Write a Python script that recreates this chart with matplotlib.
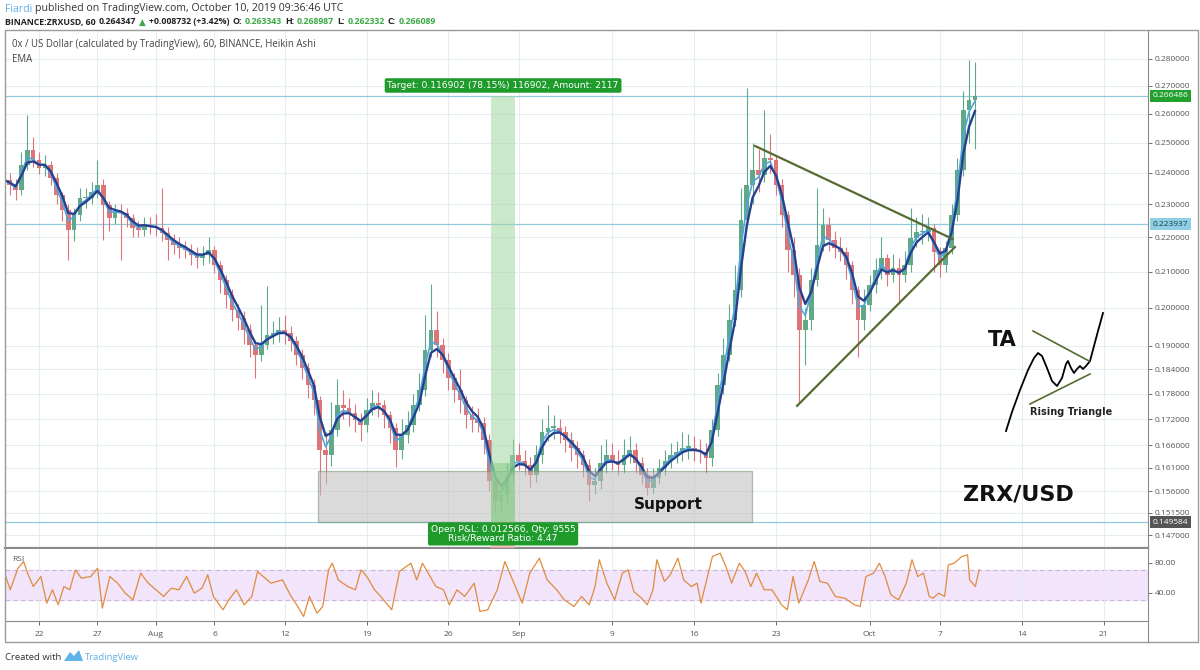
import numpy as np
import pandas as pd
import matplotlib
matplotlib.use('Agg')
import matplotlib.pyplot as plt
import matplotlib.dates as mdates
import matplotlib.transforms as mtransforms
from matplotlib.ticker import FixedLocator, FuncFormatter, NullLocator
from matplotlib.patches import Rectangle
from matplotlib.lines import Line2D

plt.rcParams['font.family'] = ['Open Sans', 'DejaVu Sans']

# 12h candles (Heikin Ashi look) starting 2019-07-19 00:00 UTC
first_open = 0.2400
closes = [0.2377, 0.2361, 0.2345, 0.2426, 0.2476, 0.2442, 0.2416, 0.2426, 0.2384, 0.2329,
          0.2283, 0.2222, 0.2267, 0.2320, 0.2320, 0.2339, 0.2361, 0.2298, 0.2258, 0.2276,
          0.2273, 0.2258, 0.2228, 0.2222, 0.2237, 0.2231, 0.2228, 0.2213, 0.2191, 0.2177,
          0.2168, 0.2162, 0.2148, 0.2139, 0.2148, 0.2162, 0.2119, 0.2075, 0.2035, 0.1994,
          0.1972, 0.1940, 0.1901, 0.1876, 0.1901, 0.1928, 0.1933, 0.1940, 0.1933, 0.1913,
          0.1876, 0.1843, 0.1801, 0.1764, 0.1650, 0.1638, 0.1695, 0.1753, 0.1746, 0.1734,
          0.1717, 0.1706, 0.1741, 0.1758, 0.1753, 0.1729, 0.1699, 0.1650, 0.1683, 0.1706,
          0.1753, 0.1789, 0.1889, 0.1940, 0.1901, 0.1862, 0.1818, 0.1789, 0.1764, 0.1729,
          0.1717, 0.1712, 0.1671, 0.1582, 0.1540, 0.1552, 0.1595, 0.1638, 0.1626, 0.1616,
          0.1595, 0.1638, 0.1690, 0.1699, 0.1699, 0.1690, 0.1671, 0.1654, 0.1638, 0.1616,
          0.1573, 0.1582, 0.1621, 0.1638, 0.1626, 0.1616, 0.1638, 0.1650, 0.1621, 0.1595,
          0.1567, 0.1588, 0.1609, 0.1626, 0.1638, 0.1645, 0.1654, 0.1654, 0.1650, 0.1645,
          0.1632, 0.1695, 0.1801, 0.1876, 0.1966, 0.2048, 0.2251, 0.2361, 0.2409, 0.2393,
          0.2449, 0.2442, 0.2361, 0.2267, 0.2162, 0.2090, 0.1940, 0.1966, 0.2075, 0.2177,
          0.2237, 0.2191, 0.2168, 0.2156, 0.2119, 0.2048, 0.1966, 0.2007, 0.2062, 0.2105,
          0.2139, 0.2090, 0.2110, 0.2090, 0.2119, 0.2198, 0.2216, 0.2216, 0.2228, 0.2156,
          0.2119, 0.2168, 0.2267, 0.2409, 0.2613, 0.2649, 0.2663]
highs = [0.2440, 0.2400, 0.2380, 0.2470, 0.2596, 0.2520, 0.2470, 0.2460, 0.2440, 0.2400,
         0.2340, 0.2300, 0.2290, 0.2350, 0.2350, 0.2370, 0.2442, 0.2380, 0.2310, 0.2300,
         0.2300, 0.2290, 0.2270, 0.2250, 0.2260, 0.2260, 0.2270, 0.2350, 0.2230, 0.2210,
         0.2200, 0.2190, 0.2180, 0.2170, 0.2175, 0.2200, 0.2175, 0.2130, 0.2090, 0.2050,
         0.2010, 0.1990, 0.1955, 0.1915, 0.2008, 0.2060, 0.1965, 0.1975, 0.1980, 0.1950,
         0.1925, 0.1890, 0.1855, 0.1815, 0.1775, 0.1690, 0.1760, 0.1815, 0.1790, 0.1770,
         0.1755, 0.1735, 0.1770, 0.1790, 0.1785, 0.1765, 0.1740, 0.1710, 0.1720, 0.1740,
         0.1780, 0.1830, 0.1980, 0.2064, 0.1990, 0.1920, 0.1880, 0.1830, 0.1840, 0.1775,
         0.1750, 0.1745, 0.1725, 0.1685, 0.1595, 0.1575, 0.1620, 0.1675, 0.1665, 0.1650,
         0.1635, 0.1660, 0.1720, 0.1753, 0.1730, 0.1720, 0.1705, 0.1690, 0.1670, 0.1650,
         0.1630, 0.1610, 0.1660, 0.1675, 0.1665, 0.1650, 0.1675, 0.1680, 0.1665, 0.1635,
         0.1610, 0.1610, 0.1630, 0.1650, 0.1665, 0.1670, 0.1690, 0.1685, 0.1680, 0.1675,
         0.1665, 0.1720, 0.1830, 0.1920, 0.2010, 0.2120, 0.2350, 0.2692, 0.2500, 0.2480,
         0.2613, 0.2530, 0.2460, 0.2380, 0.2280, 0.2200, 0.2110, 0.2000, 0.2110, 0.2350,
         0.2290, 0.2260, 0.2220, 0.2200, 0.2170, 0.2130, 0.2060, 0.2050, 0.2090, 0.2140,
         0.2200, 0.2150, 0.2150, 0.2140, 0.2160, 0.2290, 0.2260, 0.2270, 0.2260, 0.2240,
         0.2170, 0.2190, 0.2300, 0.2450, 0.2680, 0.2796, 0.2789]
lows = [0.2350, 0.2330, 0.2313, 0.2330, 0.2410, 0.2420, 0.2395, 0.2390, 0.2360, 0.2300,
        0.2250, 0.2132, 0.2190, 0.2250, 0.2290, 0.2300, 0.2320, 0.2191, 0.2220, 0.2240,
        0.2132, 0.2230, 0.2200, 0.2200, 0.2205, 0.2210, 0.2205, 0.2190, 0.2132, 0.2150,
        0.2140, 0.2140, 0.2120, 0.2110, 0.2120, 0.2125, 0.2095, 0.2040, 0.2000, 0.1965,
        0.1940, 0.1905, 0.1870, 0.1818, 0.1860, 0.1890, 0.1905, 0.1910, 0.1905, 0.1885,
        0.1850, 0.1815, 0.1770, 0.1730, 0.1552, 0.1575, 0.1615, 0.1680, 0.1720, 0.1705,
        0.1690, 0.1670, 0.1690, 0.1730, 0.1725, 0.1700, 0.1665, 0.1611, 0.1630, 0.1665,
        0.1690, 0.1740, 0.1775, 0.1870, 0.1870, 0.1830, 0.1790, 0.1760, 0.1735, 0.1700,
        0.1690, 0.1690, 0.1640, 0.1560, 0.1514, 0.1515, 0.1535, 0.1580, 0.1605, 0.1595,
        0.1570, 0.1580, 0.1620, 0.1670, 0.1675, 0.1665, 0.1645, 0.1625, 0.1610, 0.1590,
        0.1540, 0.1555, 0.1565, 0.1600, 0.1605, 0.1595, 0.1600, 0.1620, 0.1600, 0.1575,
        0.1552, 0.1555, 0.1575, 0.1595, 0.1610, 0.1620, 0.1625, 0.1630, 0.1625, 0.1620,
        0.1600, 0.1615, 0.1680, 0.1780, 0.1860, 0.1950, 0.2030, 0.2230, 0.2300, 0.2340,
        0.2370, 0.2400, 0.2330, 0.2230, 0.2100, 0.2030, 0.1757, 0.1850, 0.1940, 0.2060,
        0.2160, 0.2160, 0.2140, 0.2130, 0.2080, 0.2010, 0.1872, 0.1940, 0.1990, 0.2040,
        0.2080, 0.2060, 0.2070, 0.2016, 0.2070, 0.2100, 0.2170, 0.2180, 0.2190, 0.2100,
        0.2085, 0.2100, 0.2150, 0.2250, 0.2390, 0.2500, 0.2480]

# RSI readings, days after 2019-07-19 00:00
rsi_days = [0.05, 0.54, 1.20, 1.69, 2.02, 2.51, 3.16, 3.66, 4.15, 4.64,
            5.13, 5.62, 6.11, 6.61, 7.42, 8.01, 8.41, 9.06, 9.72, 10.37,
            11.03, 11.69, 12.34, 13.00, 13.65, 14.31, 14.96, 15.62, 16.27, 16.93,
            17.42, 17.91, 18.73, 19.22, 19.88, 20.54, 21.19, 21.68, 22.17, 22.83,
            23.81, 24.47, 25.12, 25.62, 26.11, 26.76, 27.25, 27.75, 28.07, 28.57,
            29.38, 30.04, 30.53, 31.02, 31.68, 32.33, 33.15, 33.81, 34.79, 35.28,
            35.78, 36.27, 36.92, 37.58, 38.07, 38.73, 39.38, 40.20, 40.69, 41.35,
            42.17, 42.82, 43.48, 44.30, 44.95, 45.77, 46.43, 47.25, 47.90, 48.72,
            49.38, 50.03, 50.53,
            50.89, 51.54, 52.20, 52.86, 53.35, 53.84, 54.50, 54.99, 55.48, 55.81,
            56.46, 56.96, 57.61, 58.10, 58.76, 59.25, 59.58, 60.07, 60.56, 61.22,
            61.71, 62.20, 62.86, 63.35, 63.84, 64.33, 64.99, 65.65, 66.47, 66.96,
            67.45, 67.94, 68.76, 69.26, 69.75, 70.40, 71.06, 71.88, 72.70, 73.19,
            73.68, 74.34, 74.83, 75.32, 75.81, 76.47, 77.13, 77.62, 78.11, 78.60,
            79.09, 79.42, 79.91, 80.41, 80.73, 81.23, 81.88, 82.37, 82.54, 83.03,
            83.36]
rsi_vals = [65.8, 43.6, 72.4, 81.3, 65.8, 48.0, 61.3, 25.8, 43.6, 23.6,
            48.0, 43.6, 70.2, 59.1, 61.3, 72.4, 19.1, 61.3, 52.4, 39.1,
            30.2, 65.8, 52.4, 43.6, 34.7, 45.8, 43.6, 61.3, 39.1, 45.8,
            63.6, 34.7, 16.9, 30.2, 43.6, 23.6, 34.7, 68.0, 61.3, 52.4,
            56.9, 36.9, 21.3, 8.0, 34.7, 12.4, 21.3, 70.2, 79.1, 56.9,
            48.0, 43.6, 70.2, 61.3, 43.6, 32.4, 16.9, 68.0, 79.1, 56.9,
            79.1, 65.8, 48.0, 43.6, 23.6, 43.6, 34.7, 52.4, 14.7, 16.9,
            43.6, 81.3, 56.9, 25.8, 65.8, 85.8, 56.9, 43.6, 30.2, 21.3,
            34.7, 23.6, 48.0,
            83.6, 52.4, 30.2, 65.8, 70.2, 41.3, 32.4, 23.6, 43.6, 83.6,
            54.7, 63.6, 85.8, 56.9, 48.0, 52.4, 25.8, 56.9, 88.0, 92.4,
            74.7, 52.4, 79.1, 68.0, 48.0, 65.8, 43.6, 43.6, 23.6, 16.9,
            61.3, 25.8, 56.9, 81.3, 54.7, 52.4, 34.7, 32.4, 23.6, 21.3,
            61.3, 65.8, 79.1, 61.3, 36.9, 30.2, 52.4, 83.6, 61.3, 65.8,
            34.7, 32.4, 39.1, 34.7, 76.9, 79.1, 88.0, 90.2, 56.9, 48.0,
            70.2]

price_ticks = [0.147, 0.1515, 0.156, 0.161, 0.166, 0.172, 0.178, 0.184, 0.19,
               0.20, 0.21, 0.22, 0.23, 0.24, 0.25, 0.26, 0.27, 0.28]
date_ticks = ['2019-07-22', '2019-07-27', '2019-08-01', '2019-08-06', '2019-08-12',
              '2019-08-19', '2019-08-26', '2019-09-01', '2019-09-09', '2019-09-16',
              '2019-09-23', '2019-10-01', '2019-10-07', '2019-10-14', '2019-10-21']
date_labels = ['22', '27', 'Aug', '6', '12', '19', '26', 'Sep', '9', '16', '23', 'Oct', '7', '14', '21']

last_price = 0.266486
h_level = 0.223937
entry = 0.149584
target = 0.266486
stop = 0.123432
open_pnl = 0.012566

support_start, support_end = '2019-08-14T20:00', '2019-09-20T22:00'
support_low, support_high = 0.1497, 0.1604
pos_start, pos_end = '2019-08-29T16:00', '2019-08-31T16:00'
tri_upper_t = ['2019-09-21T05:00', '2019-10-08T02:00']
tri_upper_p = [0.2489, 0.2195]
tri_lower_t = ['2019-09-24T19:00', '2019-10-08T07:00']
tri_lower_p = [0.1751, 0.2171]

W, H = 1200, 670
GREEN_C = '#5fa888'
RED_C = '#dc7478'
GRID = '#e6edf2'
AXTXT = '#555555'


def d2n(s):
    return mdates.date2num(np.datetime64(s))


def ax_xy(px, py):
    # pixel in image -> axes fraction of main panel
    return (px - 5) / 1143, (548 - py) / 518


fig = plt.figure(figsize=(W / 100, H / 100), dpi=100)
fig.patch.set_facecolor('white')
ax = fig.add_axes([5 / W, 1 - 548 / H, 1143 / W, 518 / H])
rax = fig.add_axes([5 / W, 1 - 621 / H, 1143 / W, 72 / H], sharex=ax)

start = np.datetime64('2019-07-19T00:00')
n = len(closes)
xs = mdates.date2num(start + np.arange(n) * np.timedelta64(12, 'h'))
c = np.array(closes)
o = np.array([first_open] + closes[:-1])
hi = np.array(highs)
lo = np.array(lows)
cols = [GREEN_C if cc >= oo else RED_C for cc, oo in zip(c, o)]

ax.set_yscale('log')
ax.vlines(xs, lo, hi, colors=cols, lw=0.8, zorder=2)
body_lo = np.minimum(o, c)
body_h = np.maximum(np.abs(c - o), 0.0004)
ax.bar(xs, body_h, bottom=body_lo, width=0.4, color=cols, zorder=2, linewidth=0)

ema_fast = pd.Series(closes).ewm(span=2, adjust=False).mean()
ema_slow = pd.Series(closes).ewm(span=3, adjust=False).mean()
ax.plot(xs, ema_fast, color='#4fa6da', lw=1.2, zorder=3)
ax.plot(xs, ema_slow, color='#27408e', lw=1.7, zorder=4)

# horizontal levels
for lvl in [last_price, h_level, entry]:
    ax.axhline(lvl, color='#93c9dd', lw=0.9, zorder=1)

# support zone
ax.add_patch(Rectangle((d2n(support_start), support_low),
                       d2n(support_end) - d2n(support_start), support_high - support_low,
                       facecolor='#bdbdbd', alpha=0.55, edgecolor='#6f8f6f', lw=0.9, zorder=5))
ax.text(*ax_xy(668, 504), 'Support', transform=ax.transAxes, ha='center', va='center',
        fontsize=11, fontweight='bold', family='DejaVu Sans', color='#111111', zorder=6)

# long position tool
px0, px1 = d2n(pos_start), d2n(pos_end)
ax.add_patch(Rectangle((px0, entry), px1 - px0, target - entry, facecolor='#9fd89f',
                       alpha=0.55, lw=0, zorder=5))
ax.add_patch(Rectangle((px0, entry), px1 - px0, open_pnl, facecolor='#7cc67c',
                       alpha=0.45, lw=0, zorder=5))
ax.add_patch(Rectangle((px0, stop), px1 - px0, entry - stop, facecolor='#f3b3b3',
                       alpha=0.8, lw=0, zorder=5))
pmid = (px0 + px1) / 2
ax.annotate('Target: 0.116902 (78.15%) 116902, Amount: 2117', (pmid, target),
            xytext=(0, 4), textcoords='offset points', ha='center', va='bottom',
            fontsize=6.6, color='white', family='DejaVu Sans', zorder=8,
            bbox=dict(boxstyle='round,pad=0.3,rounding_size=0.2', fc='#1e9b2a', ec='none'))
ax.annotate('Open P&L: 0.012566, Qty: 9555\nRisk/Reward Ratio: 4.47', (pmid, entry),
            xytext=(0, -2), textcoords='offset points', ha='center', va='top',
            fontsize=6.6, color='white', family='DejaVu Sans', zorder=8, linespacing=0.95,
            bbox=dict(boxstyle='round,pad=0.3,rounding_size=0.2', fc='#1e9b2a', ec='none'))

# triangle
ax.plot([d2n(t) for t in tri_upper_t], tri_upper_p, color='#566b30', lw=1.6, zorder=6)
ax.plot([d2n(t) for t in tri_lower_t], tri_lower_p, color='#566b30', lw=1.6, zorder=6)

# TA sketch
sketch_px = [(1006, 431), (1012, 412), (1020, 390), (1028, 370), (1034, 358), (1038, 353),
             (1042, 356), (1047, 368), (1052, 381), (1057, 386), (1062, 378), (1066, 364),
             (1068, 361), (1071, 368), (1074, 373), (1077, 369), (1080, 366), (1083, 369),
             (1086, 366), (1090, 361), (1094, 346), (1098, 331), (1103, 313)]
sx, sy = zip(*[ax_xy(a, b) for a, b in sketch_px])
ax.plot(sx, sy, transform=ax.transAxes, color='black', lw=1.3, zorder=7)
for (a, b), (a2, b2) in [((1033, 331), (1089, 361)), ((1030, 404), (1090, 374))]:
    p1, p2 = ax_xy(a, b), ax_xy(a2, b2)
    ax.plot([p1[0], p2[0]], [p1[1], p2[1]], transform=ax.transAxes, color='#566b30', lw=1.2, zorder=7)
ax.text(*ax_xy(1002, 340), 'TA', transform=ax.transAxes, ha='center', va='center',
        fontsize=15, fontweight='bold', family='DejaVu Sans', color='#111111')
ax.text(*ax_xy(1071, 412), 'Rising Triangle', transform=ax.transAxes, ha='center', va='center',
        fontsize=7, fontweight='bold', family='DejaVu Sans', color='#222222')
ax.text(*ax_xy(1018, 495), 'ZRX/USD', transform=ax.transAxes, ha='center', va='center',
        fontsize=16, fontweight='bold', family='DejaVu Sans', color='#111111')

# axes styling
x_left = d2n('2019-07-22') - 2.906
x_right = d2n('2019-07-22') + 94.79
ax.set_xlim(x_left, x_right)
ax.set_ylim(0.14447, 0.2912)
ax.yaxis.set_major_locator(FixedLocator(price_ticks))
ax.yaxis.set_minor_locator(NullLocator())
ax.yaxis.set_major_formatter(FuncFormatter(lambda v, p: f'{v:.6f}'))
ax.yaxis.tick_right()
ax.tick_params(axis='y', labelsize=6, colors=AXTXT, length=3, width=0.6, pad=2)
ax.tick_params(axis='x', bottom=False, labelbottom=False)
xt = [d2n(d) for d in date_ticks]
ax.set_xticks(xt)
ax.grid(True, color=GRID, lw=0.8, zorder=0)
ax.set_axisbelow(True)
for s in ['top', 'left']:
    ax.spines[s].set_visible(False)
ax.spines['right'].set_color('#8a8a8a')
ax.spines['bottom'].set_color('#8a8a8a')
ax.spines['bottom'].set_linewidth(1.6)

# price tags
bt = mtransforms.blended_transform_factory(ax.transAxes, ax.transData)
for val, fc, tc in [(last_price, '#22a12e', 'white'), (h_level, '#8fcfe6', '#1d3d4d'),
                    (entry, '#555555', 'white')]:
    ax.text(1.004, val, f'{val:.6f}', transform=bt, ha='left', va='center', fontsize=6,
            color=tc, clip_on=False, zorder=9,
            bbox=dict(boxstyle='square,pad=0.3', fc=fc, ec='none'))

# RSI panel
rx = mdates.date2num(start) + np.array(rsi_days)
rax.axhspan(30, 70, color='#f1e4fb', zorder=0)
rax.axhline(70, color='#c9b7d9', lw=0.8, ls=(0, (4, 3)), zorder=1)
rax.axhline(30, color='#c9b7d9', lw=0.8, ls=(0, (4, 3)), zorder=1)
rax.plot(rx, rsi_vals, color='#e08b3e', lw=0.9, zorder=3)
rax.set_ylim(2, 98)
rax.yaxis.tick_right()
rax.set_yticks([40, 80])
rax.yaxis.set_major_formatter(FuncFormatter(lambda v, p: f'{v:.2f}'))
rax.tick_params(axis='y', labelsize=6, colors=AXTXT, length=3, width=0.6, pad=2)
rax.set_xticks(xt)
rax.set_xticklabels(date_labels)
rax.tick_params(axis='x', labelsize=6, colors=AXTXT, length=3, width=0.6, pad=4)
rax.grid(True, axis='x', color=GRID, lw=0.8, zorder=0)
rax.spines['left'].set_visible(False)
rax.spines['top'].set_visible(False)
rax.spines['right'].set_color('#8a8a8a')
rax.spines['bottom'].set_color('#8a8a8a')
rax.text(7 / 1143, 0.86, 'RSI', transform=rax.transAxes, fontsize=6, color=AXTXT, va='center')

ax.text(*ax_xy(12, 45), '0x / US Dollar (calculated by TradingView), 60, BINANCE, Heikin Ashi',
        transform=ax.transAxes, fontsize=6.9, color='#444444', va='center')
ax.text(*ax_xy(12, 59), 'EMA', transform=ax.transAxes, fontsize=6.9, color='#444444', va='center')

# outer frame + axis separator
fig.add_artist(Rectangle((5 / W, 1 - 642 / H), 1193 / W, 612 / H, transform=fig.transFigure,
                         fill=False, ec='#9a9a9a', lw=1))
fig.add_artist(Line2D([1148 / W, 1148 / W], [1 - 621 / H, 1 - 642 / H], transform=fig.transFigure,
                      color='#8a8a8a', lw=0.8))

# header and footer text runs
fig.canvas.draw()
renderer = fig.canvas.get_renderer()


def text_runs(px, py, runs, size, weight='normal'):
    xf = px / W
    for s, col in runs:
        t = fig.text(xf, 1 - py / H, s, color=col, fontsize=size, fontweight=weight,
                     ha='left', va='center')
        bb = t.get_window_extent(renderer=renderer)
        xf = bb.x1 / W + 3 / W


text_runs(5, 9, [('Fiardi', '#62aee6'),
                 ('published on TradingView.com, October 10, 2019 09:36:46 UTC', '#333333')], 7.6)
GV = '#3caa48'
text_runs(5, 22, [('BINANCE:ZRXUSD, 60', '#222222'), ('0.264347', '#222222'), ('\u25b2', GV),
                  ('+0.008732 (+3.42%)', '#222222'), ('O:', '#222222'), ('0.263343', GV),
                  ('H:', '#222222'), ('0.268987', GV), ('L:', '#222222'), ('0.262332', GV),
                  ('C:', '#222222'), ('0.266089', GV)], 6.3, 'bold')
text_runs(5, 657, [('Created with', '#333333')], 6.8)
fig.add_artist(plt.Polygon([(64 / W, 1 - 661 / H), (70 / W, 1 - 652 / H), (74 / W, 1 - 656 / H),
                            (79 / W, 1 - 650 / H), (83 / W, 1 - 661 / H)],
                           closed=True, transform=fig.transFigure, fc='#5fb3e8', ec='none'))
text_runs(85, 657, [('TradingView', '#62aee6')], 6.8)

fig.savefig('out.png', dpi=100)
